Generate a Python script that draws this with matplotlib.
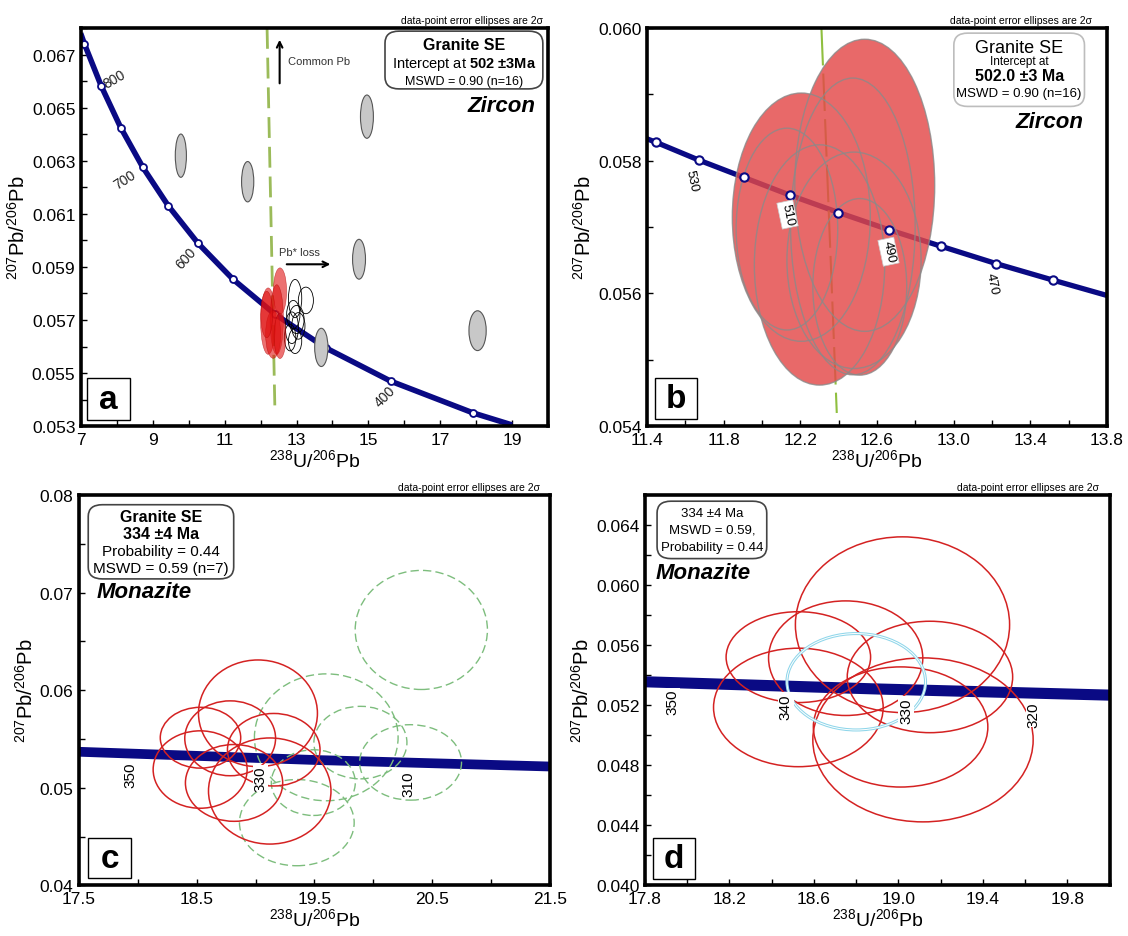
import numpy as np
import matplotlib.pyplot as plt
from matplotlib.patches import Ellipse, Rectangle, FancyBboxPatch, PathPatch
from matplotlib.path import Path
from matplotlib.ticker import FormatStrFormatter

plt.rcParams['font.family'] = ['Liberation Sans', 'DejaVu Sans']
plt.rcParams['mathtext.fontset'] = 'custom'
plt.rcParams['mathtext.rm'] = 'Liberation Sans'
plt.rcParams['mathtext.bf'] = 'Liberation Sans:bold'
plt.rcParams['mathtext.it'] = 'Liberation Sans:italic'

NAVY = '#0a0a84'

# ---------------- panel a (zircon, overview) ----------------
conc_a_x = [6.99, 7.095, 7.568, 8.105, 8.718, 9.426, 10.252, 11.228, 12.399, 13.83, 15.62, 17.92, 19.0]
conc_a_y = [0.0678, 0.0674, 0.0658, 0.06425, 0.06276, 0.06131, 0.0599, 0.05854, 0.05722, 0.05594, 0.0547, 0.0535, 0.05305]
age_a_txt = ['800', '700', '600', '400']
age_a_x = [7.93, 8.23, 9.92, 15.46]
age_a_y = [0.06609, 0.06229, 0.05935, 0.05416]

gray_x = [9.78, 11.64, 14.96, 14.74, 13.69, 18.04]
gray_y = [0.06319, 0.06221, 0.06466, 0.05929, 0.05597, 0.0566]
gray_w = [0.31, 0.34, 0.36, 0.36, 0.37, 0.48]
gray_h = [0.00163, 0.00152, 0.00163, 0.0015, 0.00144, 0.0015]

red_a_x = [12.54, 12.21, 12.45, 12.35, 12.54, 12.17]
red_a_y = [0.05809, 0.05696, 0.05702, 0.05646, 0.0564, 0.05721]
red_a_w = [0.37, 0.42, 0.37, 0.42, 0.33, 0.33]
red_a_h = [0.00175, 0.0025, 0.00262, 0.0018, 0.0017, 0.00175]

open_x = [12.96, 13.26, 12.91, 13.0, 12.87, 13.05, 12.82, 12.96]
open_y = [0.05781, 0.05774, 0.05721, 0.05702, 0.05671, 0.05678, 0.05634, 0.05621]
open_w = [0.37, 0.42, 0.37, 0.42, 0.37, 0.37, 0.32, 0.37]
open_h = [0.00144, 0.001, 0.00106, 0.00106, 0.00119, 0.001, 0.001, 0.00094]

disc_a_x = [12.18, 12.40]
disc_a_y = [0.068, 0.0535]

# ---------------- panel b (zircon, zoom) ----------------
conc_b_x = [11.40, 11.445, 11.67, 11.904, 12.147, 12.399, 12.662, 12.936, 13.222, 13.52, 13.80]
conc_b_y = [0.05833, 0.05828, 0.05801, 0.05775, 0.05748, 0.05722, 0.05696, 0.05671, 0.05645, 0.0562, 0.05597]
age_b_txt = ['530', '510', '490', '470']
age_b_x = [11.633, 12.133, 12.66, 13.20]
age_b_y = [0.0577, 0.05719, 0.05663, 0.05616]

b_x = [12.536, 12.474, 12.205, 12.13, 12.48, 12.30, 12.51]
b_y = [0.05763, 0.05701, 0.05715, 0.05697, 0.0565, 0.05643, 0.0561]
b_w = [0.73, 0.65, 0.72, 0.53, 0.70, 0.68, 0.49]
b_h = [0.0044, 0.00447, 0.00374, 0.00304, 0.00326, 0.00362, 0.00266]

disc_b_x = [12.31, 12.39]
disc_b_y = [0.060, 0.0542]

# ---------------- panel c (monazite) ----------------
conc_c_x = [17.5, 19.5, 21.5]
conc_c_y = [0.05369, 0.05285, 0.05218]
age_c_txt = ['350', '330', '310']
age_c_x = [17.934, 19.04, 20.295]
age_c_y = [0.05143, 0.0510, 0.0505]

c_red_x = [18.532, 18.784, 19.02, 19.154, 18.529, 18.817, 19.12]
c_red_y = [0.05513, 0.05507, 0.05763, 0.0539, 0.05187, 0.0505, 0.04967]
c_red_w = [0.683, 0.771, 1.01, 0.786, 0.798, 0.826, 1.04]
c_red_h = [0.00623, 0.00767, 0.01093, 0.00743, 0.00793, 0.00787, 0.01087]

c_grn_x = [20.407, 19.60, 19.89, 20.316, 19.49, 19.35]
c_grn_y = [0.06617, 0.05517, 0.05463, 0.0526, 0.05053, 0.04643]
c_grn_w = [1.123, 1.22, 0.79, 0.865, 0.713, 0.974]
c_grn_h = [0.0122, 0.013, 0.00743, 0.00773, 0.00673, 0.00883]

# ---------------- panel d (monazite, zoom) ----------------
conc_d_x = [17.8, 18.9, 20.0]
conc_d_y = [0.05356, 0.05308, 0.05267]
age_d_txt = ['350', '340', '330', '320']
age_d_x = [17.928, 18.467, 19.036, 19.641]
age_d_y = [0.05224, 0.05196, 0.05168, 0.05142]

d_red_x = [19.019, 18.526, 18.75, 19.149, 18.526, 19.01, 19.116]
d_red_y = [0.05736, 0.0552, 0.05513, 0.05388, 0.05185, 0.05055, 0.04969]
d_red_w = [1.014, 0.684, 0.73, 0.783, 0.803, 0.826, 1.043]
d_red_h = [0.0117, 0.00605, 0.00763, 0.00742, 0.00789, 0.008, 0.01092]
d_mean = (18.80, 0.05356, 0.656, 0.00642)

XLAB = r'$^{238}$U/$^{206}$Pb'
YLAB = r'$^{207}$Pb/$^{206}$Pb'


def setup(ax, xlim, ylim, xt, xm, yt, ym, yfmt):
    ax.set_xlim(xlim)
    ax.set_ylim(ylim)
    ax.set_xticks(xt)
    ax.set_xticks(xm, minor=True)
    ax.set_yticks(yt)
    ax.set_yticks(ym, minor=True)
    ax.yaxis.set_major_formatter(FormatStrFormatter(yfmt))
    ax.tick_params(which='both', direction='in', length=4, width=1, labelsize=12.5, pad=4)
    for s in ax.spines.values():
        s.set_linewidth(2.6)
    ax.set_xlabel(XLAB, fontsize=14, labelpad=1)
    ax.set_ylabel(YLAB, fontsize=14.5, labelpad=2)


def note(ax, xr):
    ax.text(xr, 1.008, 'data-point error ellipses are 2σ', transform=ax.transAxes,
            ha='right', va='bottom', fontsize=7.5)


def letter(ax, s, x0, y0, x1, y1):
    ax.add_patch(Rectangle((x0, y0), x1 - x0, y1 - y0, transform=ax.transAxes,
                           fc='white', ec='black', lw=1, zorder=8))
    ax.text((x0 + x1) / 2, (y0 + y1) / 2, s, transform=ax.transAxes, ha='center',
            va='center', fontsize=24, fontweight='bold', zorder=9)


def box(ax, x0, y0, x1, y1, ec, lines):
    ax.add_patch(FancyBboxPatch((x0, y0), x1 - x0, y1 - y0, transform=ax.transAxes,
                                boxstyle='round,pad=0,rounding_size=0.03',
                                fc='white', ec=ec, lw=1.2, zorder=8))
    for txt, y, size, weight in lines:
        ax.text((x0 + x1) / 2, y, txt, transform=ax.transAxes, ha='center', va='center',
                fontsize=size, fontweight=weight, zorder=9)


fig = plt.figure(figsize=(11.28, 9.37), dpi=100)
ax_a = fig.add_axes([0.0718, 0.5440, 0.414, 0.4251])
ax_b = fig.add_axes([0.5736, 0.5440, 0.4078, 0.4251])
ax_c = fig.add_axes([0.0700, 0.0540, 0.4176, 0.4167])
ax_d = fig.add_axes([0.5718, 0.0540, 0.4120, 0.4167])

# ---- a
ax = ax_a
setup(ax, (7, 20), (0.053, 0.068), np.arange(7, 20, 2), np.arange(8, 21, 2),
      np.arange(0.053, 0.0675, 0.002), np.arange(0.054, 0.068, 0.002), '%.3f')
ax.plot(conc_a_x, conc_a_y, color=NAVY, lw=4, zorder=2, solid_capstyle='butt')
ax.plot(conc_a_x[1:-1], conc_a_y[1:-1], 'o', ms=5, mfc='white', mec=NAVY, mew=1.3, zorder=2.5)
rot_a = [30, 33, 48, 45]
for t, x, y, r in zip(age_a_txt, age_a_x, age_a_y, rot_a):
    ax.text(x, y, t, fontsize=10, rotation=r, ha='center', va='center', color='#222222')
ax.plot(disc_a_x, disc_a_y, color='#9bbb59', lw=2, dashes=(7.5, 3.2), zorder=1)
for x, y, w, h in zip(gray_x, gray_y, gray_w, gray_h):
    ax.add_patch(Ellipse((x, y), w, h, fc='#c8c8c8', ec='#555555', lw=0.8, zorder=3))
for x, y, w, h in zip(open_x, open_y, open_w, open_h):
    ax.add_patch(Ellipse((x, y), w, h, fc='none', ec='black', lw=0.6, zorder=3))
for x, y, w, h in zip(red_a_x, red_a_y, red_a_w, red_a_h):
    ax.add_patch(Ellipse((x, y), w, h, fc='#e01212', ec='#b00000', lw=0.4, alpha=0.6, zorder=4))
ax.annotate('', xy=(12.53, 0.06766), xytext=(12.53, 0.06581),
            arrowprops=dict(arrowstyle='->', lw=1.5, color='black'))
ax.text(12.76, 0.06676, 'Common Pb', fontsize=8, color='#333333', va='center')
ax.annotate('', xy=(14.02, 0.0591), xytext=(12.65, 0.0591),
            arrowprops=dict(arrowstyle='->', lw=1.5, color='black'))
ax.text(12.51, 0.05958, 'Pb* loss', fontsize=8, color='#333333', va='center')
box(ax, 0.651, 0.847, 0.989, 0.992, '#444444',
    [('Granite SE', 0.958, 11.5, 'bold'),
     (r'Intercept at $\mathbf{502\ ±3Ma}$', 0.912, 10.5, 'normal'),
     ('MSWD = 0.90 (n=16)', 0.868, 9, 'normal')])
ax.text(0.901, 0.806, 'Zircon', transform=ax.transAxes, ha='center', va='center',
        fontsize=16, fontweight='bold', fontstyle='italic')
letter(ax, 'a', 0.013, 0.015, 0.106, 0.12)
note(ax, 0.989)

# ---- b
ax = ax_b
setup(ax, (11.4, 13.8), (0.054, 0.060), np.arange(11.4, 13.81, 0.4), np.arange(11.6, 13.8, 0.4),
      np.arange(0.054, 0.0601, 0.002), np.arange(0.055, 0.060, 0.002), '%.3f')
ax.plot(conc_b_x, conc_b_y, color=NAVY, lw=3.8, zorder=2)
ax.plot(disc_b_x, disc_b_y, color='#8fbf3f', lw=1.5, dashes=(18, 3.9), zorder=2)
ells = [Ellipse((x, y), w, h) for x, y, w, h in zip(b_x, b_y, b_w, b_h)]
union = Path.make_compound_path(*[e.get_patch_transform().transform_path(e.get_path()) for e in ells])
ax.add_patch(PathPatch(union, fc='#e44848', ec='none', alpha=0.82, zorder=3))
for e in ells:
    e.set(fc='none', ec='#8a8a8a', lw=1, alpha=0.8, zorder=4)
    ax.add_patch(e)
ax.plot(conc_b_x[1:-1], conc_b_y[1:-1], 'o', ms=6, mfc='white', mec=NAVY, mew=1.5, zorder=5)
for t, x, y in zip(age_b_txt, age_b_x, age_b_y):
    bb = dict(fc='white', ec='#cccccc', lw=0.5, pad=1.5) if t in ('510', '490') else None
    ax.text(x, y, t, fontsize=9.5, rotation=-78, ha='center', va='center', bbox=bb, zorder=6)
box(ax, 0.667, 0.803, 0.951, 0.987, '#bdbdbd',
    [('Granite SE', 0.950, 13, 'normal'),
     ('Intercept at', 0.916, 8.5, 'normal'),
     ('502.0 ±3 Ma', 0.880, 11.5, 'bold'),
     ('MSWD = 0.90 (n=16)', 0.837, 9.5, 'normal')])
ax.text(0.876, 0.766, 'Zircon', transform=ax.transAxes, ha='center', va='center',
        fontsize=16, fontweight='bold', fontstyle='italic')
letter(ax, 'b', 0.018, 0.018, 0.109, 0.121)
note(ax, 0.967)

# ---- c
ax = ax_c
setup(ax, (17.5, 21.5), (0.04, 0.08), np.arange(17.5, 21.6, 1.0), np.arange(18, 21.1, 1.0),
      np.arange(0.04, 0.0801, 0.01), np.arange(0.045, 0.08, 0.01), '%.2f')
ax.plot(conc_c_x, conc_c_y, color=NAVY, lw=7, zorder=2)
for x, y, w, h in zip(c_grn_x, c_grn_y, c_grn_w, c_grn_h):
    ax.add_patch(Ellipse((x, y), w, h, fc='none', ec='#7dbd7d', lw=1, ls=(0, (6, 3)), zorder=3))
for x, y, w, h in zip(c_red_x, c_red_y, c_red_w, c_red_h):
    ax.add_patch(Ellipse((x, y), w, h, fc='none', ec='#d42222', lw=1.1, zorder=3))
for t, x, y in zip(age_c_txt, age_c_x, age_c_y):
    ax.text(x, y, t, fontsize=11, rotation=90, ha='center', va='center', zorder=6,
            bbox=dict(fc='white', ec='none', pad=0.5) if t == '330' else None)
box(ax, 0.0197, 0.785, 0.3285, 0.975, '#444444',
    [('Granite SE', 0.944, 11.5, 'bold'),
     ('334 ±4 Ma', 0.901, 11.5, 'bold'),
     ('Probability = 0.44', 0.857, 11, 'normal'),
     ('MSWD = 0.59 (n=7)', 0.814, 11, 'normal')])
ax.text(0.139, 0.754, 'Monazite', transform=ax.transAxes, ha='center', va='center',
        fontsize=16, fontweight='bold', fontstyle='italic')
letter(ax, 'c', 0.0197, 0.018, 0.11, 0.122)
note(ax, 0.979)

# ---- d
ax = ax_d
setup(ax, (17.8, 20.0), (0.040, 0.066), np.arange(17.8, 19.81, 0.4), np.arange(18.0, 20.01, 0.4),
      np.arange(0.040, 0.0641, 0.004), np.arange(0.042, 0.066, 0.004), '%.3f')
ax.plot(conc_d_x, conc_d_y, color=NAVY, lw=8, zorder=2)
for x, y, w, h in zip(d_red_x, d_red_y, d_red_w, d_red_h):
    ax.add_patch(Ellipse((x, y), w, h, fc='none', ec='#d42222', lw=1.1, zorder=3))
mx, my, mw, mh = d_mean
ax.add_patch(Ellipse((mx, my), mw, mh, fc='none', ec='#8fd6ea', lw=2.2, zorder=3))
ax.add_patch(Ellipse((mx, my), mw, mh, fc='none', ec='white', lw=0.7, zorder=3.1))
for t, x, y in zip(age_d_txt, age_d_x, age_d_y):
    ax.text(x, y, t, fontsize=11, rotation=90, ha='center', va='center', zorder=6,
            bbox=dict(fc='white', ec='none', pad=0.5))
box(ax, 0.026, 0.837, 0.262, 0.984, '#444444',
    [('334 ±4 Ma', 0.953, 9.5, 'normal'),
     ('MSWD = 0.59,', 0.911, 9.5, 'normal'),
     ('Probability = 0.44', 0.867, 9.5, 'normal')])
ax.text(0.126, 0.802, 'Monazite', transform=ax.transAxes, ha='center', va='center',
        fontsize=16, fontweight='bold', fontstyle='italic')
letter(ax, 'd', 0.018, 0.017, 0.107, 0.121)
note(ax, 0.977)

fig.savefig('out.png', dpi=100)
